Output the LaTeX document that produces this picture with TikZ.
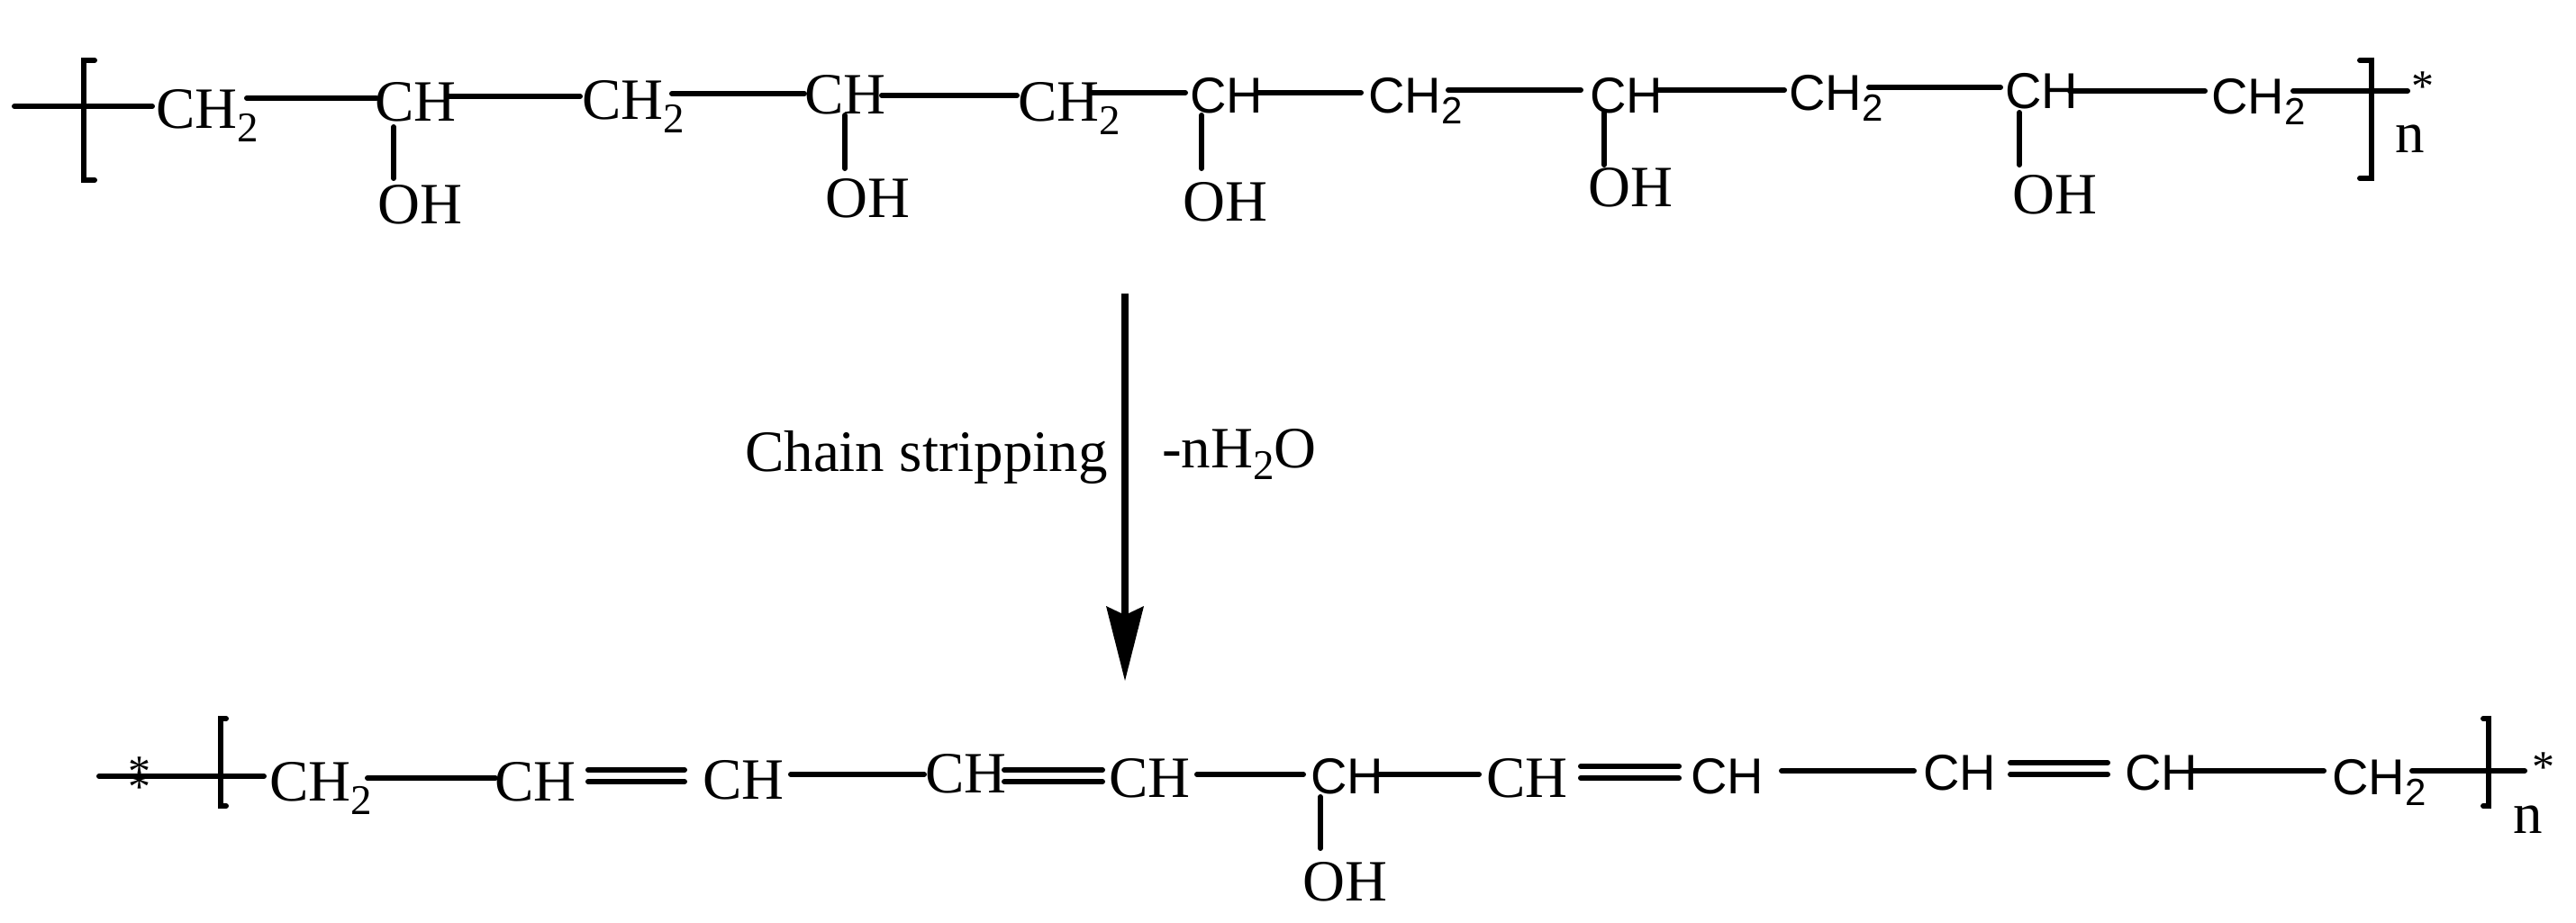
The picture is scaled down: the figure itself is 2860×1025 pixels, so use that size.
\documentclass[tikz,border=0pt]{standalone}
\usepackage{fontspec}
\setmainfont{Liberation Serif}
\newfontfamily\sansface{Liberation Sans}
\usetikzlibrary{arrows.meta}
\newcommand{\serifsub}{\raisebox{-15pt}{\fontsize{47}{47}\selectfont 2}}
\newcommand{\sanssub}{\raisebox{-12pt}{\fontsize{42}{42}\selectfont 2}}
\tikzset{
    serifgroup/.style={anchor=base west, inner sep=0pt, font=\fontsize{65}{70}\selectfont},
    sansgroup/.style={anchor=base west, inner sep=0pt, font=\fontsize{56}{60}\selectfont\sansface},
    endstar/.style={anchor=base west, inner sep=0pt, font=\fontsize{50}{50}\selectfont},
    bond/.style={line width=6pt, line cap=round},
    bracket/.style={line width=6pt, line cap=round, line join=miter},
    reaction/.style={line width=7.5pt, -{Stealth[length=83pt,width=42pt,inset=10pt,line width=0pt]}}
}

\begin{document}
\begin{tikzpicture}[x=1pt,y=-1pt]
\useasboundingbox (0,0) rectangle (2860,1025);

% Top chain
\foreach \n/\x/\y in {A0/173/142,A2/646/132,A4/1130/134} {
  \node[serifgroup] (\n) at (\x,\y) {CH\serifsub};
}
\foreach \n/\x/\y in {A1/416/134,A3/893/126} {
  \node[serifgroup] (\n) at (\x,\y) {CH};
}
\foreach \n/\x/\y in {A6/1519/125,A8/1986/122,A10/2455/126} {
  \node[sansgroup] (\n) at (\x,\y) {CH\sanssub};
}
\foreach \n/\x/\y in {A5/1321/125,A7/1765/125,A9/2226/121} {
  \node[sansgroup] (\n) at (\x,\y) {CH};
}
\foreach \n/\x/\y in {O1/419/248,O3/916/241,O5/1313/245,O7/1763/229,O9/2234/237} {
  \node[serifgroup] (\n) at (\x,\y) {OH};
}

% Bottom chain
\node[serifgroup] (B0) at (299,889) {CH\serifsub};
\foreach \n/\x/\y in {B1/549/889,B2/780/887,B3/1027/880,B4/1231/885,B6/1650/885} {
  \node[serifgroup] (\n) at (\x,\y) {CH};
}
\foreach \n/\x/\y in {B5/1455/881,B7/1877/881,B8/2135/877,B9/2359/877} {
  \node[sansgroup] (\n) at (\x,\y) {CH};
}
\node[sansgroup] (B10) at (2589,882) {CH\sanssub};
\node[serifgroup] (OB) at (1446,1000) {OH};

% Repeat unit labels
\node[serifgroup] (nTop) at (2659,169) {n};
\node[serifgroup] (nBottom) at (2790,925) {n};
\node[endstar] (starTop) at (2677,112) {*};
\node[endstar] (starBottom) at (2811,868) {*};
\node[endstar] (starLeftA) at (142,873) {*};
\node[endstar] (starLeftB) at (142,890) {*};

% Free ends
\coordinate (endTopL) at (16,118);
\coordinate (endTopR) at (2673,101);
\coordinate (endBottomL) at (110,862);
\coordinate (endBottomR) at (2803,856);
\coordinate (arrowTop) at (1249,326);
\coordinate (arrowTip) at (1249,756);

% Single bonds, offsets from the base of each group
\foreach \a/\ax/\ay/\b/\bx/\by in {
  A0/101/-33/A1/2/-25, A1/81/-27/A2/-2/-25, A2/100/-28/A3/0/-22,
  A3/86/-20/A4/-1/-28, A4/80/-31/A5/-5/-22, A5/75/-22/A6/-8/-22,
  A6/89/-25/A7/-10/-25, A7/74/-25/A8/-5/-22, A8/89/-25/A9/-5/-24,
  A9/72/-20/A10/-7/-25,
  A1/21/7/O1/18/-50, A3/45/2/O3/22/-54, A5/13/3/O5/21/-58,
  A7/16/0/O7/18/-46, A9/16/4/O9/8/-54,
  B0/109/-25/B1/1/-25, B2/98/-27/B3/-1/-20, B4/98/-25/B5/-8/-21,
  B5/73/-21/B6/-8/-25, B7/101/-25/B8/-10/-21, B9/76/-21/B10/-9/-26,
  B5/11/4/OB/20/-58} {
  \draw[bond] ([shift={(\ax,\ay)}]\a.base west) -- ([shift={(\bx,\by)}]\b.base west);
}

% Double bonds
\foreach \a/\ax/\ay/\b/\bx/\by in {
  B1/104/-34/B2/-20/-32, B3/88/-25/B4/-7/-30,
  B6/105/-34/B7/-13/-30, B8/97/-30/B9/-19/-30} {
  \draw[bond] ([shift={(\ax,\ay)}]\a.base west) -- ([shift={(\bx,\by)}]\b.base west);
  \draw[bond] ([shift={(\ax,\ay+13)}]\a.base west) -- ([shift={(\bx,\by+13)}]\b.base west);
}

% Chain ends
\draw[bond] (endTopL) -- ([shift={(-4,-24)}]A0.base west);
\draw[bond] ([shift={(91,-25)}]A10.base west) -- (endTopR);
\draw[bond] (endBottomL) -- ([shift={(-6,-27)}]B0.base west);
\draw[bond] ([shift={(89,-26)}]B10.base west) -- (endBottomR);

% Brackets
\draw[bracket] (105,67) -- (93,67) -- (93,200) -- (105,200);
\draw[bracket] (2620,67) -- (2633,67) -- (2633,198) -- (2620,198);
\draw[bracket] (251,798) -- (245,798) -- (245,895) -- (251,895);
\draw[bracket] (2757,798) -- (2763,798) -- (2763,895) -- (2757,895);

% Reaction arrow
\draw[reaction] (arrowTop) -- (arrowTip);
\node[serifgroup] (stripLabel) at (827,523) {Chain stripping};
\node[serifgroup] (waterLabel) at (1290,519) {-nH\raisebox{-13pt}{\fontsize{47}{47}\selectfont 2}O};

\end{tikzpicture}
\end{document}
